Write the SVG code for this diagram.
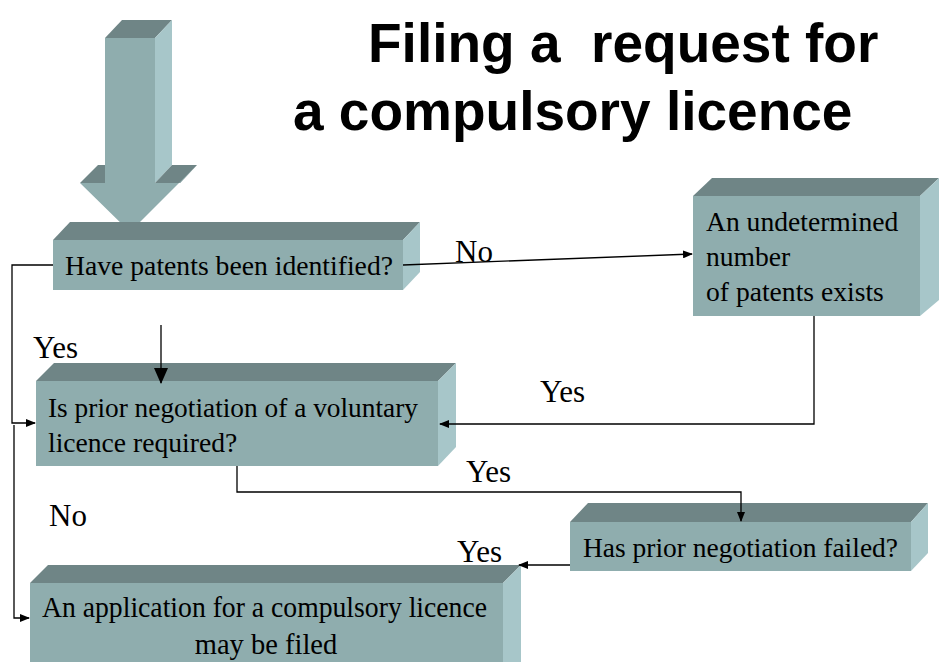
<svg xmlns="http://www.w3.org/2000/svg" width="939" height="662" viewBox="0 0 939 662">
<style>
.front{fill:#8fadae}
.top{fill:#6f8586}
.side{fill:#a7c6c9}
.t{font-family:"Liberation Serif","Times New Roman",serif;font-size:27.6px;fill:#000}
.lbl{font-family:"Liberation Serif","Times New Roman",serif;font-size:31px;fill:#000}
.title{font-family:"Liberation Sans",Arial,sans-serif;font-size:55px;font-weight:bold;fill:#000;white-space:pre}
.c{fill:none;stroke:#000;stroke-width:1.3}
</style>
<defs>
<marker id="ah" markerWidth="10" markerHeight="8" refX="9" refY="4" orient="auto" markerUnits="userSpaceOnUse">
<path d="M0,0 L10,4 L0,8 Z" fill="#000"/>
</marker>
<marker id="ahb" markerWidth="16" markerHeight="14" refX="15" refY="7" orient="auto" markerUnits="userSpaceOnUse">
<path d="M0,0 L16,7 L0,14 Z" fill="#000"/>
</marker>
</defs>

<g id="title">
<text class="title" x="368" y="62" xml:space="preserve">Filing a  request for</text>
<text class="title" x="293" y="130">a compulsory licence</text>
</g>

<g id="start-arrow">
<polygon class="top" points="105,38 122,20 172,20 155,38"/>
<polygon class="side" points="155,38 172,20 172,165 155,183"/>
<rect class="front" x="105" y="38" width="50" height="145"/>
<polygon class="top" points="80,183 98,165 105,165 105,183"/>
<polygon class="top" points="155,183 172,165 197,165 180,183"/>
<polygon class="front" points="80,183 180,183 197,165 130,232"/>
</g>

<g id="n1">
<polygon class="top" points="53,240 70,222 420,222 403,240"/>
<polygon class="side" points="403,240 420,222 420,272 403,290"/>
<rect class="front" x="53" y="240" width="350" height="50"/>
<text class="t" x="65" y="275" textLength="328" lengthAdjust="spacingAndGlyphs">Have patents been identified?</text>
</g>

<g id="n2">
<polygon class="top" points="693,196 712,178 939,178 920,196"/>
<polygon class="side" points="920,196 939,178 939,300 920,316"/>
<rect class="front" x="693" y="196" width="227" height="120"/>
<text class="t" x="706" y="231">An undetermined</text>
<text class="t" x="706" y="266">number</text>
<text class="t" x="706" y="301">of patents exists</text>
</g>

<g id="n3">
<polygon class="top" points="36,381 54,363 456,363 438,381"/>
<polygon class="side" points="438,381 456,363 456,447 438,466"/>
<rect class="front" x="36" y="381" width="402" height="85"/>
<text class="t" x="48" y="417" textLength="370" lengthAdjust="spacingAndGlyphs">Is prior negotiation of a voluntary</text>
<text class="t" x="48" y="452">licence required?</text>
</g>

<g id="n4">
<polygon class="top" points="570,522 588,503 928,503 911,522"/>
<polygon class="side" points="911,522 928,503 928,553 911,571"/>
<rect class="front" x="570" y="522" width="341" height="49"/>
<text class="t" x="583" y="557" textLength="315" lengthAdjust="spacingAndGlyphs">Has prior negotiation failed?</text>
</g>

<g id="n5">
<polygon class="top" points="30,583 48,565 521,565 503,583"/>
<polygon class="side" points="503,583 521,565 521,662 503,662"/>
<rect class="front" x="30" y="583" width="473" height="79"/>
<text class="t" x="42" y="617" style="font-size:28.5px" textLength="445" lengthAdjust="spacingAndGlyphs">An application for a compulsory licence</text>
<text class="t" x="266" y="654" text-anchor="middle" style="font-size:28.5px">may be filed</text>
</g>

<g id="connectors">
<path class="c" d="M403,265 L692,254" marker-end="url(#ah)"/>
<path class="c" d="M53,265 L12,265 L12,423 L35,423" marker-end="url(#ah)"/>
<path class="c" d="M14,425 L14,618 L29,618" marker-end="url(#ah)"/>
<path class="c" d="M161,325 L161,383" stroke-width="2" marker-end="url(#ahb)"/>
<path class="c" d="M814,316 L814,424 L440,424" marker-end="url(#ah)"/>
<path class="c" d="M237,466 L237,492 L741,492 L741,521" marker-end="url(#ah)"/>
<path class="c" d="M570,565 L519,565" marker-end="url(#ah)"/>
</g>

<g id="labels">
<text class="lbl" x="455" y="262">No</text>
<text class="lbl" x="33" y="358">Yes</text>
<text class="lbl" x="540" y="402">Yes</text>
<text class="lbl" x="466" y="482">Yes</text>
<text class="lbl" x="49" y="526">No</text>
<text class="lbl" x="457" y="562">Yes</text>
</g>
</svg>
